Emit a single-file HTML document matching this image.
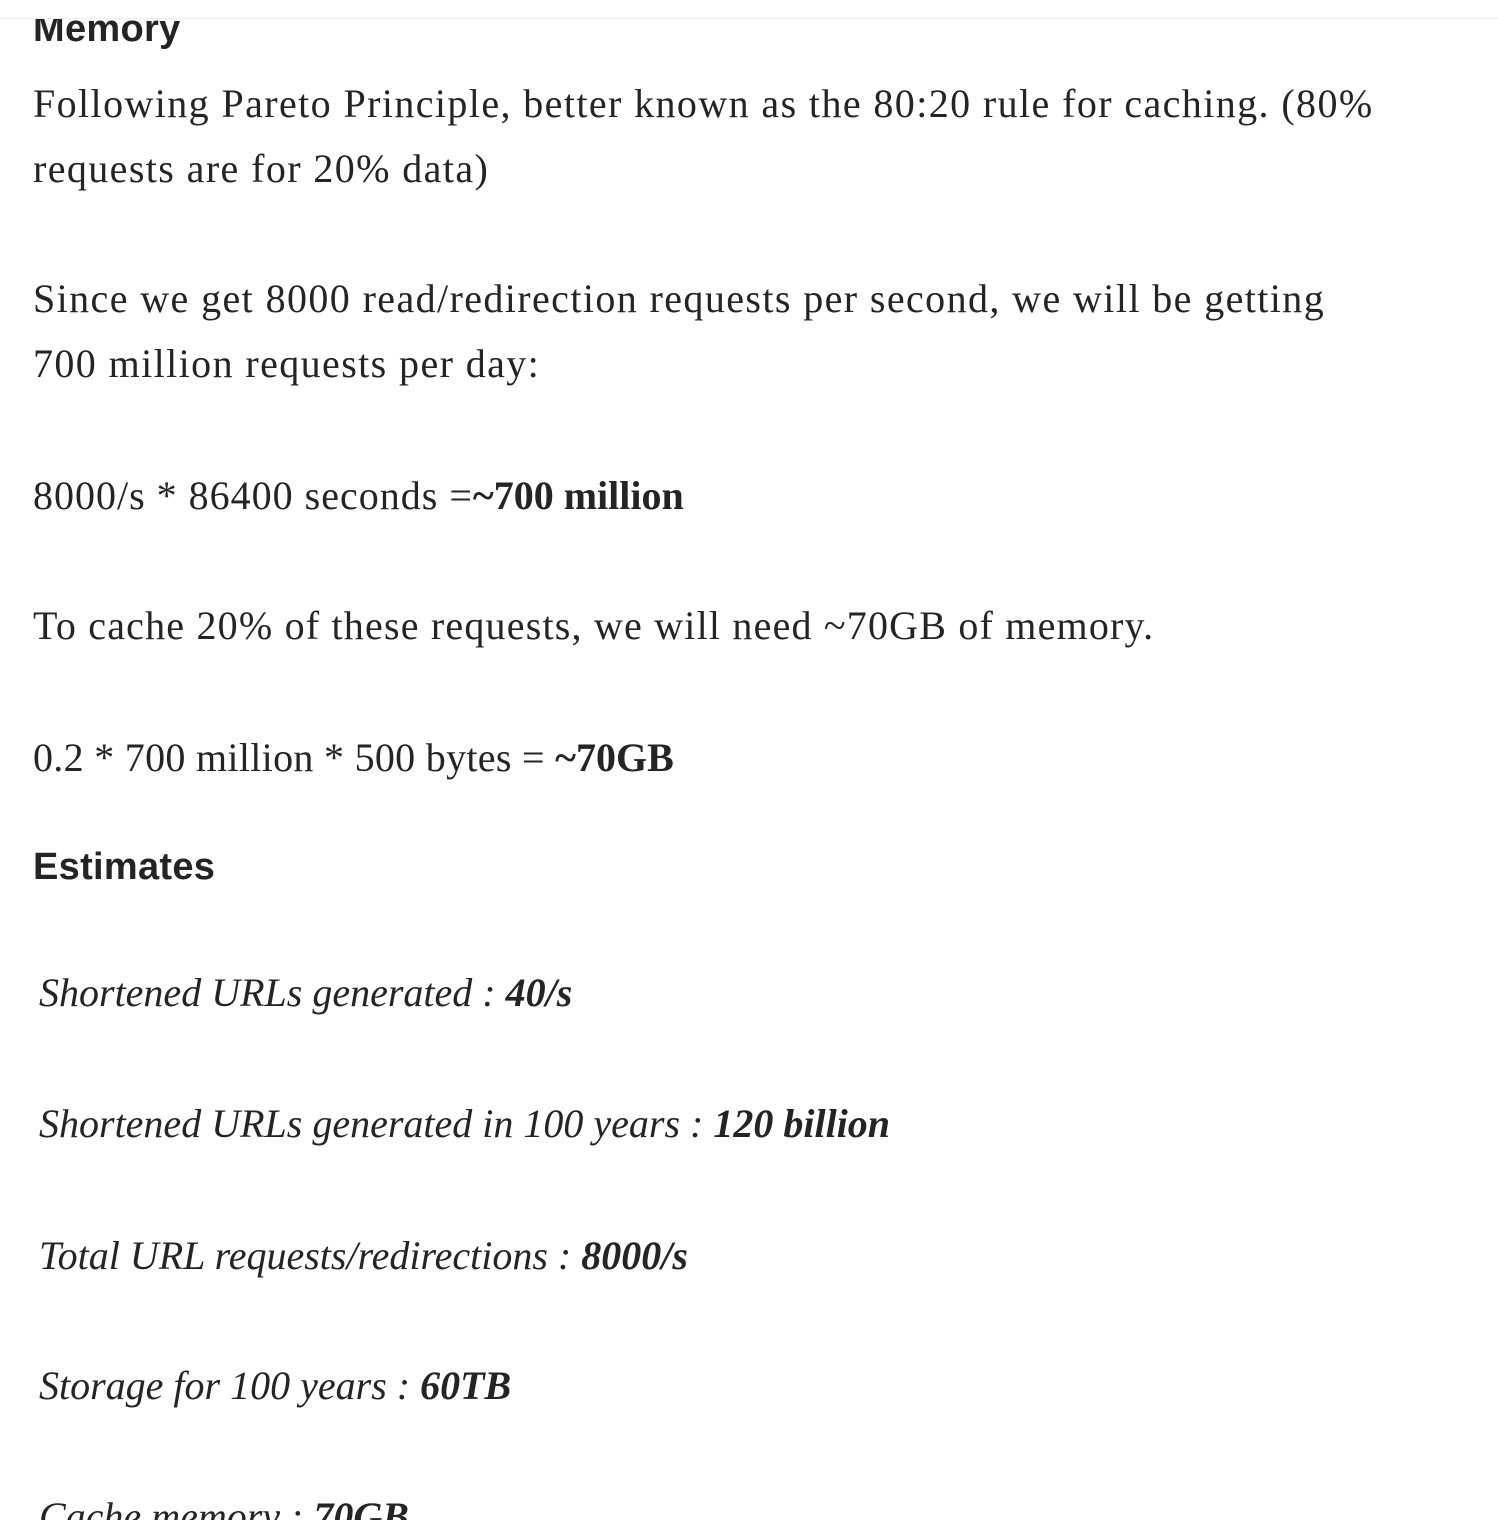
<!DOCTYPE html>
<html><head><meta charset="utf-8"><style>
html,body{margin:0;padding:0;background:#fff;width:1498px;height:1520px;overflow:hidden;position:relative}
.l{position:absolute;left:33px;white-space:nowrap;font-family:"Liberation Serif",serif;font-size:40px;line-height:40px;color:#242424;letter-spacing:1.4px}
.h{position:absolute;left:33px;white-space:nowrap;font-family:"Liberation Sans",sans-serif;font-weight:bold;font-size:38px;line-height:40px;color:#242424;letter-spacing:0.3px}
.i{font-style:italic;left:39px;letter-spacing:0}
#bar{position:absolute;left:0;top:0;width:1498px;height:18px;background:#fff;border-bottom:1px solid #efefef;z-index:2}
</style></head><body>
<div id="bar"></div>
<div class="h" style="top:9px">Memory</div>
<div class="l" style="top:84px">Following Pareto Principle, better known as the 80:20 rule for caching. (80%</div>
<div class="l" style="top:149px">requests are for 20% data)</div>
<div class="l" style="top:279px">Since we get 8000 read/redirection requests per second, we will be getting</div>
<div class="l" style="top:344px">700 million requests per day:</div>
<div class="l" style="top:476px;letter-spacing:1px">8000/s * 86400 seconds =<b style="letter-spacing:0">~700 million</b></div>
<div class="l" style="top:606px;letter-spacing:1.2px">To cache 20% of these requests, we will need ~70GB of memory.</div>
<div class="l" style="top:738px;letter-spacing:0.3px">0.2 * 700 million * 500 bytes = <b style="letter-spacing:0">~70GB</b></div>
<div class="h" style="top:847px">Estimates</div>
<div class="l i" style="top:973px">Shortened URLs generated : <b>40/s</b></div>
<div class="l i" style="top:1104px">Shortened URLs generated in 100 years : <b>120 billion</b></div>
<div class="l i" style="top:1236px">Total URL requests/redirections : <b>8000/s</b></div>
<div class="l i" style="top:1366px">Storage for 100 years : <b>60TB</b></div>
<div class="l i" style="top:1497px">Cache memory : <b>70GB</b></div>
</body></html>
